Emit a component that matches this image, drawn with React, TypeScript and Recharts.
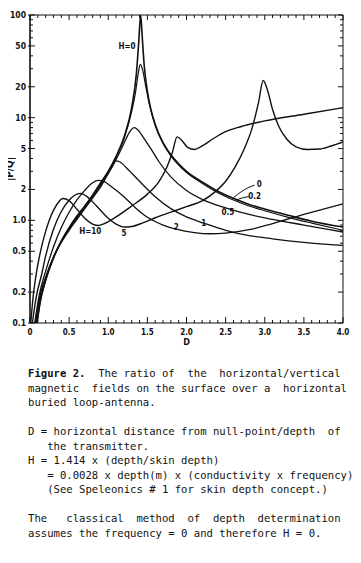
import React from 'react';
import { LineChart, Line, XAxis, YAxis, ReferenceDot } from 'recharts';

// [D, |P/Q|], one list per H value
const curveH0: [number, number][] = [[0.09, 0.1], [0.13, 0.16], [0.2, 0.26], [0.3, 0.43], [0.4, 0.63], [0.5, 0.85], [0.6, 1.1], [0.7, 1.38], [0.8, 1.76], [0.9, 2.3], [1.0, 3.0], [1.1, 4.2], [1.2, 6.4], [1.3, 12.6], [1.36, 27], [1.39, 55], [1.414, 100], [1.435, 60], [1.46, 32], [1.5, 18], [1.55, 11.6], [1.6, 8.6], [1.7, 5.7], [1.8, 4.35], [1.9, 3.55], [2.0, 3.0], [2.2, 2.37], [2.4, 1.92], [2.6, 1.64], [2.8, 1.43], [3.0, 1.29], [3.3, 1.12], [3.6, 0.98], [4.0, 0.86]];
const curveH02: [number, number][] = [[0.09, 0.1], [0.13, 0.16], [0.2, 0.26], [0.3, 0.43], [0.4, 0.62], [0.5, 0.84], [0.6, 1.09], [0.7, 1.37], [0.8, 1.75], [0.9, 2.28], [1.0, 2.98], [1.1, 4.15], [1.2, 6.2], [1.3, 11.5], [1.35, 18], [1.38, 26], [1.41, 33], [1.44, 29], [1.48, 20], [1.53, 13], [1.6, 8.4], [1.7, 5.6], [1.8, 4.25], [1.9, 3.45], [2.0, 2.92], [2.2, 2.3], [2.4, 1.86], [2.6, 1.58], [2.8, 1.38], [3.0, 1.24], [3.3, 1.07], [3.6, 0.94], [4.0, 0.8]];
const curveH05: [number, number][] = [[0.08, 0.1], [0.12, 0.16], [0.2, 0.27], [0.3, 0.44], [0.4, 0.62], [0.5, 0.82], [0.6, 1.05], [0.7, 1.33], [0.8, 1.68], [0.9, 2.18], [1.0, 2.85], [1.1, 3.9], [1.2, 5.6], [1.27, 7.2], [1.33, 8.0], [1.38, 7.6], [1.45, 6.4], [1.55, 4.9], [1.65, 3.7], [1.8, 2.65], [2.0, 1.95], [2.2, 1.6], [2.5, 1.32], [2.8, 1.14], [3.1, 1.02], [3.5, 0.9], [4.0, 0.77]];
const curveH1: [number, number][] = [[0.07, 0.1], [0.11, 0.16], [0.2, 0.28], [0.3, 0.44], [0.4, 0.61], [0.5, 0.8], [0.6, 1.02], [0.7, 1.3], [0.8, 1.65], [0.9, 2.1], [1.0, 2.9], [1.05, 3.4], [1.1, 3.8], [1.15, 3.7], [1.25, 3.15], [1.4, 2.4], [1.6, 1.7], [1.8, 1.3], [2.0, 1.08], [2.22, 0.94], [2.5, 0.8], [2.8, 0.71], [3.1, 0.66], [3.5, 0.61], [4.0, 0.57]];
const curveH2: [number, number][] = [[0.06, 0.1], [0.12, 0.19], [0.2, 0.32], [0.3, 0.55], [0.4, 0.85], [0.5, 1.2], [0.6, 1.58], [0.7, 1.96], [0.8, 2.32], [0.87, 2.45], [0.95, 2.38], [1.05, 2.1], [1.2, 1.7], [1.35, 1.32], [1.5, 1.07], [1.7, 0.9], [1.87, 0.82], [2.1, 0.76], [2.3, 0.74], [2.5, 0.75], [2.8, 0.81], [3.1, 0.93], [3.5, 1.14], [4.0, 1.45]];
const curveH5: [number, number][] = [[0.03, 0.1], [0.08, 0.18], [0.15, 0.3], [0.2, 0.45], [0.3, 0.82], [0.4, 1.22], [0.5, 1.57], [0.6, 1.8], [0.65, 1.83], [0.72, 1.72], [0.85, 1.38], [1.0, 1.05], [1.1, 0.92], [1.2, 0.86], [1.3, 0.87], [1.45, 0.95], [1.6, 1.06], [1.8, 1.2], [2.0, 1.36], [2.2, 1.55], [2.35, 1.85], [2.5, 2.4], [2.62, 3.3], [2.74, 5.0], [2.84, 8.0], [2.92, 14], [2.98, 23], [3.04, 18], [3.1, 12], [3.18, 8.2], [3.28, 6.2], [3.4, 5.2], [3.55, 4.9], [3.7, 4.95], [3.85, 5.3], [4.0, 5.8]];
const curveH10: [number, number][] = [[0.01, 0.1], [0.04, 0.18], [0.07, 0.27], [0.1, 0.37], [0.15, 0.56], [0.2, 0.78], [0.25, 1.02], [0.3, 1.25], [0.35, 1.45], [0.42, 1.63], [0.5, 1.55], [0.6, 1.28], [0.7, 1.05], [0.8, 0.92], [0.87, 0.89], [0.95, 0.93], [1.1, 1.08], [1.3, 1.38], [1.5, 1.8], [1.65, 2.4], [1.75, 3.3], [1.82, 4.6], [1.88, 6.5], [1.94, 6.0], [2.02, 5.1], [2.1, 4.9], [2.2, 5.3], [2.35, 6.3], [2.5, 7.3], [2.7, 8.2], [3.0, 9.3], [3.5, 10.8], [4.0, 12.5]];

// small leader lines from the curves to the "0" and "0.2" labels
const leader0: [number, number][] = [[2.6, 1.66], [2.7, 1.9], [2.8, 2.1], [2.87, 2.2]];
const leader02: [number, number][] = [[2.64, 1.58], [2.72, 1.66], [2.8, 1.7]];

// curve labels: [text, D, |P/Q|]
const curveLabels: [string, number, number][] = [
  ['H=0', 1.24, 50], ['H=10', 0.77, 0.78], ['5', 1.2, 0.75], ['2', 1.87, 0.86],
  ['1', 2.22, 0.94], ['0.5', 2.53, 1.2], ['0.2', 2.87, 1.71], ['0', 2.93, 2.23],
];

const xTicks = [0, 0.1, 0.2, 0.3, 0.4, 0.5, 0.6, 0.7, 0.8, 0.9, 1.0, 1.1, 1.2, 1.3, 1.4, 1.5, 1.6, 1.7, 1.8, 1.9, 2.0, 2.1, 2.2, 2.3, 2.4, 2.5, 2.6, 2.7, 2.8, 2.9, 3.0, 3.1, 3.2, 3.3, 3.4, 3.5, 3.6, 3.7, 3.8, 3.9, 4.0];
const xLabels: Record<string, string> = { '0': '0', '0.5': '0.5', '1': '1.0', '1.5': '1.5', '2': '2.0', '2.5': '2.5', '3': '3.0', '3.5': '3.5', '4': '4.0' };
const yTicks = [0.1, 0.2, 0.3, 0.4, 0.5, 0.6, 0.7, 0.8, 0.9, 1, 2, 3, 4, 5, 6, 7, 8, 9, 10, 20, 30, 40, 50, 60, 70, 80, 90, 100];
const yLabels: Record<string, string> = { '0.1': '0.1', '0.2': '0.2', '0.5': '0.5', '1': '1.0', '2': '2', '5': '5', '10': '10', '20': '20', '50': '50', '100': '100' };

const ink = '#111';
const tickFont = '"DejaVu Sans Condensed", "DejaVu Sans", sans-serif';
const toPts = (arr: [number, number][]) => arr.map(([d, v]) => ({ d, v }));

const BottomTick = (p: any) => {
  const { x, y, payload } = p;
  const lab = xLabels[String(payload.value)];
  return (
    <g>
      <line x1={x} x2={x} y1={y} y2={y - (lab ? 6 : 3)} stroke={ink} />
      {lab && <text x={x} y={y + 12} textAnchor="middle" fontSize={8} fontWeight="bold" fontFamily={tickFont} fill={ink}>{lab}</text>}
    </g>
  );
};
const TopTick = (p: any) => {
  const { x, y, payload } = p;
  const major = xLabels[String(payload.value)];
  return <line x1={x} x2={x} y1={y} y2={y + (major ? 5 : 3)} stroke={ink} />;
};
const LeftTick = (p: any) => {
  const { x, y, payload } = p;
  const lab = yLabels[String(payload.value)];
  return (
    <g>
      <line x1={lab ? x - 2 : x} x2={x + (lab ? 5 : 3)} y1={y} y2={y} stroke={ink} />
      {lab && <text x={x - 4} y={y + 3} textAnchor="end" fontSize={8.5} fontWeight="bold" fontFamily={tickFont} fill={ink}>{lab}</text>}
    </g>
  );
};
const RightTick = (p: any) => {
  const { x, y, payload } = p;
  const major = yLabels[String(payload.value)];
  return <line x1={x} x2={x - (major ? 5 : 3)} y1={y} y2={y} stroke={ink} />;
};

const YTitle = (p: any) => {
  const vb = p.viewBox;
  const cy = vb.y + vb.height / 2;
  return (
    <text x={9} y={cy} transform={`rotate(-90 9 ${cy})`} textAnchor="middle" dominantBaseline="central" fontSize={10} fontWeight="bold" fontFamily={tickFont} fill={ink}>|P/Q|</text>
  );
};

const captionLines = [
  'magnetic  fields on the surface over a  horizontal',
  'buried loop-antenna.',
  ' ',
  'D = horizontal distance from null-point/depth  of',
  '   the transmitter.',
  'H = 1.414 x (depth/skin depth)',
  '   = 0.0028 x depth(m) x (conductivity x frequency)',
  '   (See Speleonics # 1 for skin depth concept.)',
  ' ',
  'The   classical  method  of  depth  determination',
  'assumes the frequency = 0 and therefore H = 0.',
];

const series: [string, [number, number][], number][] = [
  ['H=0', curveH0, 1.6],
  ['H=0.2', curveH02, 1.2],
  ['H=0.5', curveH05, 1.3],
  ['H=1', curveH1, 1.3],
  ['H=2', curveH2, 1.3],
  ['H=5', curveH5, 1.4],
  ['H=10', curveH10, 1.4],
];

export default function App() {
  return (
    <div style={{ margin: '-8px 0 0 -8px', width: 361, background: '#fff' }}>
      <LineChart width={361} height={350} margin={{ top: 14, right: 17, bottom: 26, left: 29 }}>
        <XAxis dataKey="d" type="number" domain={[0, 4]} ticks={xTicks} allowDataOverflow interval={0}
          height={1} tickSize={0} tickMargin={0} tickLine={false} tick={BottomTick} stroke={ink}
          label={{ value: 'D', position: 'bottom', offset: 15, fontSize: 9, fontWeight: 'bold', fill: ink, fontFamily: tickFont }} />
        <XAxis xAxisId="top" orientation="top" dataKey="d" type="number" domain={[0, 4]} ticks={xTicks} allowDataOverflow interval={0}
          height={1} tickSize={0} tickMargin={0} tickLine={false} tick={TopTick} stroke={ink} />
        <YAxis type="number" scale="log" domain={[0.1, 100]} ticks={yTicks} allowDataOverflow interval={0}
          width={1} tickSize={0} tickMargin={0} tickLine={false} tick={LeftTick} stroke={ink} strokeWidth={1.6}
          label={YTitle} />
        <YAxis yAxisId="right" orientation="right" type="number" scale="log" domain={[0.1, 100]} ticks={yTicks} allowDataOverflow interval={0}
          width={1} tickSize={0} tickMargin={0} tickLine={false} tick={RightTick} stroke={ink} />
        {series.map(([name, pts, w]) => (
          <Line key={name} name={name} data={toPts(pts)} dataKey="v" type="monotone" stroke={ink} strokeWidth={w} dot={false} isAnimationActive={false} />
        ))}
        <Line data={toPts(leader0)} dataKey="v" type="monotone" stroke={ink} strokeWidth={1} dot={false} isAnimationActive={false} />
        <Line data={toPts(leader02)} dataKey="v" type="monotone" stroke={ink} strokeWidth={1} dot={false} isAnimationActive={false} />
        {curveLabels.map(([t, d, v]) => (
          <ReferenceDot key={t} x={d} y={v} r={1} fill="none" stroke="none"
            label={{ value: t, position: 'center', fontSize: 8, fontWeight: 'bold', fill: ink, fontFamily: tickFont }} />
        ))}
      </LineChart>
      <div style={{ fontFamily: '"DejaVu Sans Mono", "Liberation Mono", monospace', fontSize: 10.6, lineHeight: '14.5px', whiteSpace: 'pre', color: ink, paddingLeft: 28, marginTop: 16 }}>
        <div><b>Figure 2.</b>{'  The ratio of  the  horizontal/vertical'}</div>
        {captionLines.map((l, i) => <div key={i}>{l}</div>)}
      </div>
    </div>
  );
}
